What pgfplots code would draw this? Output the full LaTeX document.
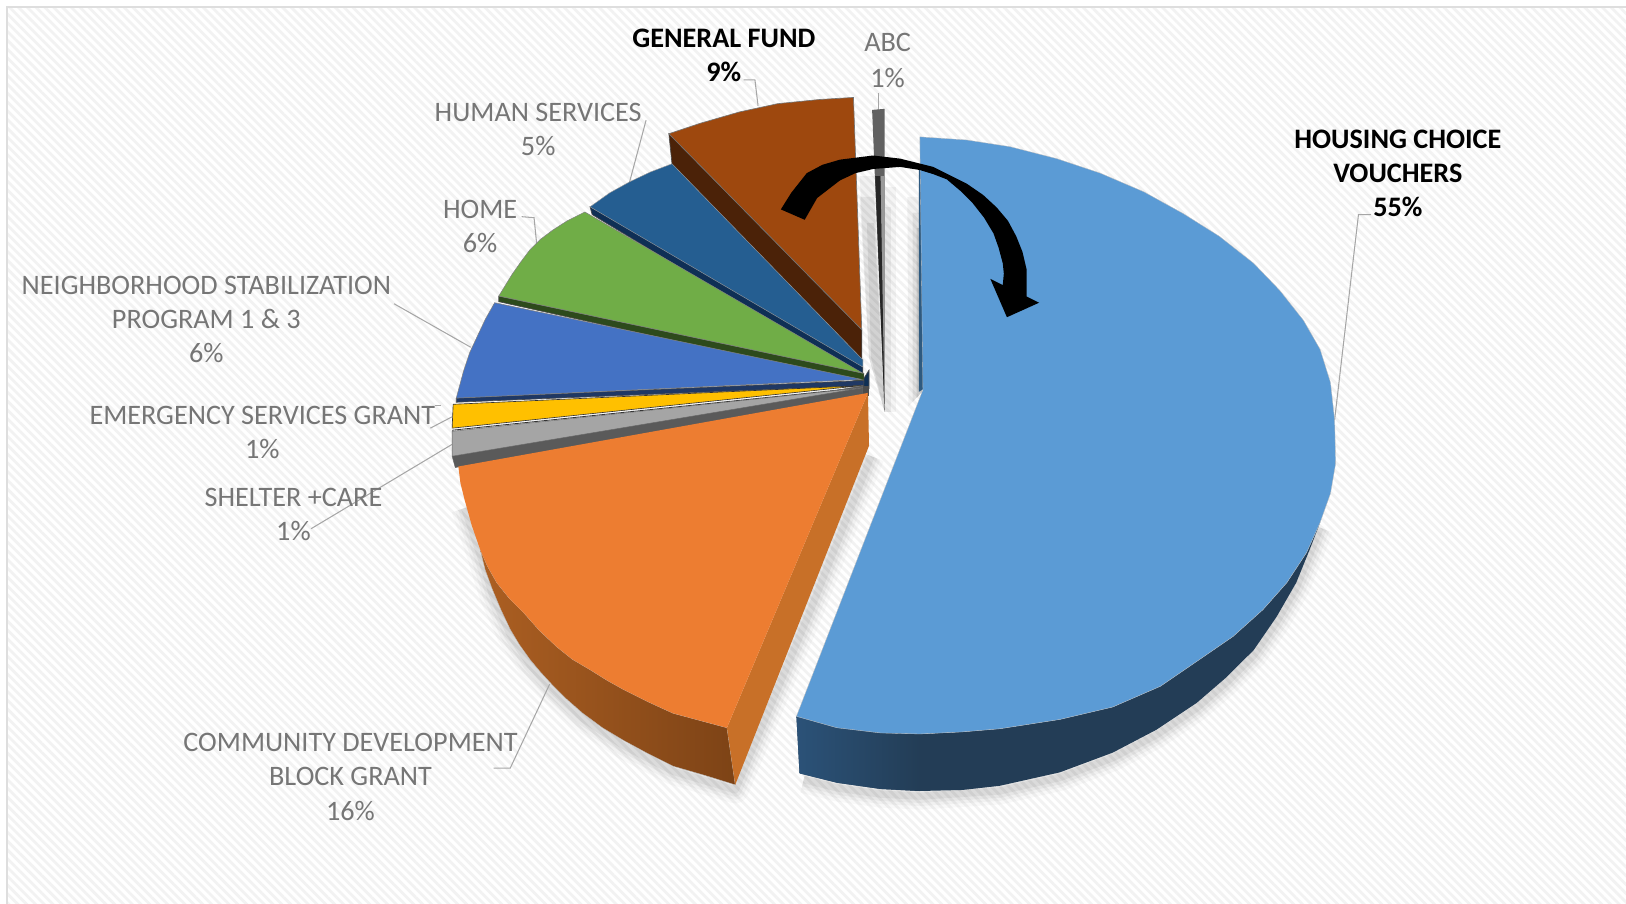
\documentclass[border=0pt]{standalone}
\usepackage{pgfplots}
\pgfplotsset{compat=1.18}
\usepackage{fontspec}
\setmainfont{Carlito}
\usetikzlibrary{patterns.meta}
\definecolor{lab}{HTML}{767676}
\definecolor{lead}{HTML}{A6A6A6}
\definecolor{cBrownS}{HTML}{4B2208}
\definecolor{cBrown}{HTML}{9E480E}
\definecolor{cNavy}{HTML}{0F2F55}
\definecolor{cMid}{HTML}{255E91}
\definecolor{cGreenS}{HTML}{2D4A1C}
\definecolor{cGreen}{HTML}{70AD47}
\definecolor{cRoyalS}{HTML}{1F3864}
\definecolor{cRoyal}{HTML}{4472C4}
\definecolor{cYellow}{HTML}{FFC000}
\definecolor{cGrayS}{HTML}{5A5A5A}
\definecolor{cGray}{HTML}{A5A5A5}
\definecolor{cOrL}{HTML}{AC5F22}
\definecolor{cOrR}{HTML}{7D4316}
\definecolor{cOrF}{HTML}{C87028}
\definecolor{cOr}{HTML}{ED7D31}
\definecolor{cBlL}{HTML}{2B5278}
\definecolor{cBlR}{HTML}{233D56}
\definecolor{cBlI}{HTML}{2E5A80}
\definecolor{cBl}{HTML}{5B9BD5}
\newcommand{\lab}[3]{\node[anchor=base,inner sep=0pt,text=lab,font=\fontsize{27.2}{30}\selectfont] at (axis cs:#1,#2+1) {#3};}
\newcommand{\labb}[3]{\node[anchor=base,inner sep=0pt,text=black,font=\fontsize{27.2}{30}\selectfont\bfseries] at (axis cs:#1,#2+1) {#3};}
\begin{document}
\begin{tikzpicture}
\begin{axis}[width=1568pt,height=871.75pt,scale only axis,axis lines=none,
 xmin=0,xmax=1568,ymin=0,ymax=872,y dir=reverse,clip=true]
% background
\addplot[draw=none,fill=white] coordinates {(0,0)(1568,0)(1568,872)(0,872)} --cycle;
\addplot[draw=none,pattern={Lines[angle=-45,distance=6pt,line width=2.6pt]},pattern color=black!5] coordinates {(7,7)(1568,7)(1568,872)(7,872)} --cycle;
\addplot[draw=black!13,line width=2pt] coordinates {(6.5,872)(6.5,6.5)(1568,6.5)};
% soft shadows: big slice
\addplot[draw=black,opacity=.025,line width=26pt,line join=round] coordinates {(775,752)(807,760)(849,766)(887,768)(964,763)(1022,750)(1073,731)(1115,709)(1154,683)(1183,658)(1209,632)(1231,600)(1250,567)(1263,535)(1273,509)};
\addplot[draw=black,opacity=.03,line width=19pt,line join=round] coordinates {(775,752)(807,760)(849,766)(887,768)(964,763)(1022,750)(1073,731)(1115,709)(1154,683)(1183,658)(1209,632)(1231,600)(1250,567)(1263,535)(1273,509)};
\addplot[draw=black,opacity=.04,line width=13pt,line join=round] coordinates {(775,752)(807,760)(849,766)(887,768)(964,763)(1022,750)(1073,731)(1115,709)(1154,683)(1183,658)(1209,632)(1231,600)(1250,567)(1263,535)(1273,509)};
\addplot[draw=black,opacity=.05,line width=7pt,line join=round] coordinates {(775,752)(807,760)(849,766)(887,768)(964,763)(1022,750)(1073,731)(1115,709)(1154,683)(1183,658)(1209,632)(1231,600)(1250,567)(1263,535)(1273,509)};
% soft shadows: orange slice
\addplot[draw=black,opacity=.025,line width=26pt,line join=round] coordinates {(448,490)(463,535)(475,574)(492,612)(511,641)(532,665)(562,693)(601,719)(649,744)(709,762)(781,590)(840,440)};
\addplot[draw=black,opacity=.03,line width=19pt,line join=round] coordinates {(448,490)(463,535)(475,574)(492,612)(511,641)(532,665)(562,693)(601,719)(649,744)(709,762)(781,590)(840,440)};
\addplot[draw=black,opacity=.04,line width=13pt,line join=round] coordinates {(448,490)(463,535)(475,574)(492,612)(511,641)(532,665)(562,693)(601,719)(649,744)(709,762)(781,590)(840,440)};
\addplot[draw=black,opacity=.05,line width=7pt,line join=round] coordinates {(448,490)(463,535)(475,574)(492,612)(511,641)(532,665)(562,693)(601,719)(649,744)(709,762)(781,590)(840,440)};
% gap shadows
\addplot[draw=none,fill=black,opacity=.05] coordinates {(829,170)(843,170)(853,397)(838,345)} --cycle;
\addplot[draw=none,fill=black,opacity=.06] coordinates {(829,190)(843,190)(853,397)(838,345)} --cycle;
\addplot[draw=none,fill=black,opacity=.07] coordinates {(836,215)(843,215)(853,397)(840,345)} --cycle;
\addplot[draw=none,fill=black,opacity=.04] coordinates {(853,180)(864,180)(864,397)(853,397)} --cycle;
\addplot[draw=none,fill=black,opacity=.05] coordinates {(853,200)(859,200)(859,397)(853,397)} --cycle;
\addplot[draw=none,fill=black,opacity=.05] coordinates {(875,190)(887,190)(889,378)(876,392)} --cycle;
\addplot[draw=none,fill=black,opacity=.07] coordinates {(880,205)(887,205)(889,378)(880,388)} --cycle;
\addplot[draw=none,fill=black,opacity=.10] coordinates {(884,220)(887,220)(889,378)(884,384)} --cycle;
% leader lines
\addplot[draw=lead,line width=1pt] coordinates {(717,77)(728,77)(731,102)};
\addplot[draw=lead,line width=1pt] coordinates {(847,90)(847,106)};
\addplot[draw=lead,line width=1pt] coordinates {(623,116)(607,176)};
\addplot[draw=lead,line width=1pt] coordinates {(503,209)(515,210)(518,240)};
\addplot[draw=lead,line width=1pt] coordinates {(380,293)(454,335)};
\addplot[draw=lead,line width=1pt] coordinates {(419,391)(425,391)};
\addplot[draw=lead,line width=1pt] coordinates {(436,402)(415,413)};
\addplot[draw=lead,line width=1pt] coordinates {(437,428)(300,510)};
\addplot[draw=lead,line width=1pt] coordinates {(476,741)(492,741)(530,660)};
\addplot[draw=lead,line width=1pt] coordinates {(1322,207)(1310,207)(1287,405)};
% ABC
\addplot[draw=none,fill=black!62] coordinates {(841,106)(853,105)(853,397)} --cycle;
\addplot[draw=none,fill=black!40] coordinates {(849,170)(853,170)(853,397)} --cycle;
\addplot[draw=none,fill=black!85] coordinates {(844,170)(849,170)(853,397)} --cycle;
% brown
\addplot[draw=black!70,line width=.6pt,fill=cBrownS] coordinates {(645,129)(648,158)(831,347)(831,318)} --cycle;
\addplot[draw=black!55,line width=.6pt,fill=cBrown] coordinates {(645,129)(675,119)(713,108)(750,100)(790,96)(823,94)(831,318)} --cycle;
% mid blue
\addplot[draw=black!70,line width=.6pt,fill=cNavy] coordinates {(569,199.5)(571,207)(833,365)(838,357)(838,375)(832,375)(832,347)} --cycle;
\addplot[draw=black!40,line width=.4pt,fill=cMid] coordinates {(569,199.5)(588,186)(607,175.5)(627,166)(648,158)(832,347)(832,354)} --cycle;
% green
\addplot[draw=black!70,line width=.6pt,fill=cGreenS] coordinates {(481,285.6)(481,291)(833,369)(833,360)} --cycle;
\addplot[draw=black!50,line width=.5pt,fill=cGreen] coordinates {(564,204.5)(547,213)(533,222)(521,231)(511,241)(502,253)(493.6,265)(481,285.6)(832,360)} --cycle;
% royal blue
\addplot[draw=black!70,line width=.6pt,fill=cRoyalS] coordinates {(440,384)(440,388)(833,372)(833,367)} --cycle;
\addplot[draw=black!50,line width=.5pt,fill=cRoyal] coordinates {(477,292)(468,308)(460,325)(453,340)(447,358)(440,384)(831,366)} --cycle;
% yellow
\addplot[draw=black!80,line width=.6pt,fill=cYellow] coordinates {(437,390)(436,413)(830,372)} --cycle;
\addplot[draw=black!80,line width=.8pt] coordinates {(436,415)(830,374)};
% gray
\addplot[draw=none,fill=black!70] coordinates {(830,372)(838,372)(838,382)(830,382)} --cycle;
\addplot[draw=black!60,line width=.4pt,fill=cGrayS] coordinates {(436,440)(439,451)(832,382)(832,372)} --cycle;
\addplot[draw=black!60,line width=.4pt,fill=cGray] coordinates {(436,416)(436,440)(832,374)} --cycle;
% orange side faces
\addplot[draw=black!25,line width=.3pt,left color=cOrL,right color=cOrR] coordinates {(463,530)(468,550)(475,569)(483,588)(492,607)(501,622)(511,636)(521,648)(532,660)(546,674)(562,688)(581,702)(601,714)(625,727)(649,739)(680,748)(709,757)(701,702)(675,695)(649,688)(625,677)(601,665)(585,656)(569,646)(552,636)(537,624)(520,608)(505,591)(491,577)(479,562)(470,546)} --cycle;
\addplot[draw=none,fill=cOrF] coordinates {(837,379)(838,430)(709,757)(701,702)} --cycle;
\addplot[draw=none,fill=cOr] coordinates {(442,450)(837,379)(701,702)(675,695)(649,688)(625,677)(601,665)(585,656)(569,646)(552,636)(537,624)(520,608)(505,591)(491,577)(479,562)(470,546)(463,530)(455,507)(448,482)(444,466)} --cycle;
% big blue
\addplot[draw=none,fill=cBlR] coordinates {(768,691)(771,746)(807,755)(849,761)(887,763)(928,762)(964,758)(1022,745)(1073,726)(1115,704)(1154,678)(1183,653)(1209,627)(1231,595)(1250,562)(1263,530)(1273,504)(1260,533)(1241,562)(1218,588)(1189,614)(1157,636)(1119,662)(1073,682)(1022,694)(964,703)(928,706)(887,708)(849,707)(807,702)} --cycle;
\addplot[draw=none,left color=cBlL,right color=cBlR] coordinates {(768,691)(771,746)(807,755)(849,761)(887,763)(887,708)(849,707)(807,702)} --cycle;
\addplot[draw=none,fill=cBlI] coordinates {(886,160)(891,160)(891,375)(886,378)} --cycle;
\addplot[draw=black!25,line width=.3pt,fill=cBl] coordinates {(887,132)(932,135)(974,141.5)(1019,153)(1061,167)(1103,185)(1141,206)(1176,228)(1209,254)(1234,280)(1257,309)(1273,337)(1283,369)(1287,405)(1288,447)(1283,476)(1273,504)(1260,533)(1241,562)(1218,588)(1189,614)(1157,636)(1119,662)(1073,682)(1022,694)(964,703)(928,706)(887,708)(849,707)(807,702)(768,691)(890,376)} --cycle;
% arrow
\addplot[draw=none,fill=black] coordinates {(753,202)(763,186)(778,167)(793,159)(810,154)(842,150)(868,153)(900,161)(932,177)(948,188)(961,200)(972,213)(980,228)(986,243)(990,260)(990,286)(1002,292)(971,306)(955,269)(967,275)(968,264)(967,254)(963,239)(958,225)(949,210)(938,196)(926,184)(913,173)(900,168)(887,164)(868,161)(842,163)(825,167)(810,174)(788,191)(776,212)} --cycle;
% labels
\labb{698}{45}{GENERAL FUND}
\labb{698}{78}{9\%}
\lab{856}{49}{ABC}
\lab{856}{83}{1\%}
\lab{519}{116}{HUMAN SERVICES}
\lab{519}{149}{5\%}
\lab{463}{210}{HOME}
\lab{463}{243}{6\%}
\lab{199}{283}{NEIGHBORHOOD STABILIZATION}
\lab{199}{316}{PROGRAM 1 \& 3}
\lab{199}{349}{6\%}
\lab{253}{408}{EMERGENCY SERVICES GRANT}
\lab{253}{441}{1\%}
\lab{283}{488}{SHELTER +CARE}
\lab{283}{520}{1\%}
\lab{338}{724}{COMMUNITY DEVELOPMENT}
\lab{338}{757}{BLOCK GRANT}
\lab{338}{790}{16\%}
\labb{1348}{142}{HOUSING CHOICE}
\labb{1348}{175}{VOUCHERS}
\labb{1348}{208}{55\%}
\end{axis}
\end{tikzpicture}
\end{document}
